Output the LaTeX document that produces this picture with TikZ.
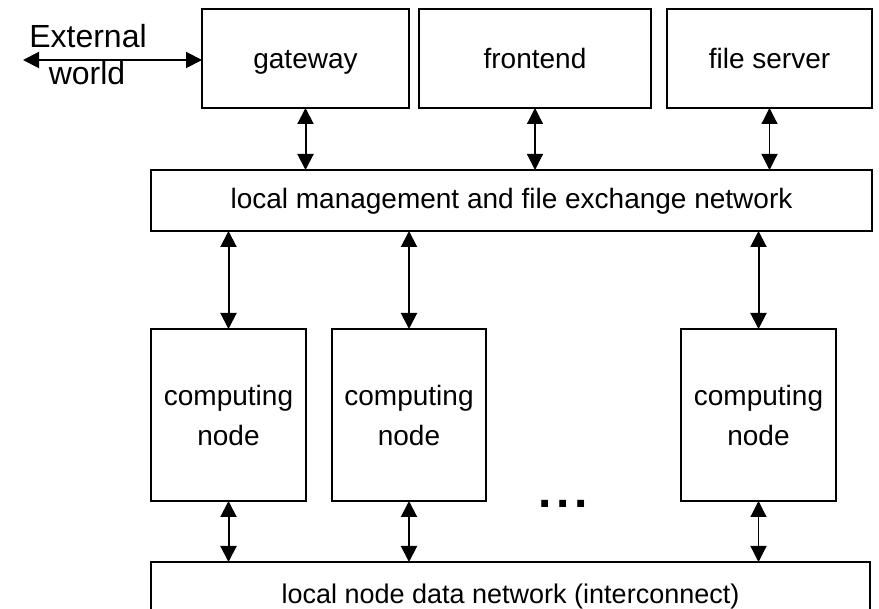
\documentclass[tikz,border=0pt]{standalone}
\usepackage{fontspec}
\setmainfont{Liberation Sans}
\usetikzlibrary{arrows.meta}
\tikzset{
  unitbox/.style={draw=black, line width=1.6pt, inner sep=0pt, outer sep=0pt, fill=white},
  topbox/.style={unitbox, minimum height=99pt, text height=24pt, text depth=3pt,
    font=\fontsize{28}{34}\selectfont},
  mgmtbox/.style={unitbox, minimum width=721pt, minimum height=61pt,
    text height=20pt, text depth=3pt, font=\fontsize{28}{34}\selectfont},
  cnbox/.style={unitbox, minimum width=155pt, minimum height=172pt, align=center,
    font=\fontsize{28}{40}\selectfont},
  databox/.style={unitbox, minimum width=719pt, minimum height=68pt,
    text height=20pt, text depth=6pt, font=\fontsize{27}{32}\selectfont},
  outtext/.style={inner sep=0pt, anchor=base, font=\fontsize{32}{38}\selectfont},
  >={Triangle[length=16pt,width=16pt]},
  link/.style={<->, line width=2pt},
  thinlink/.style={<->, line width=1.2pt}
}
\begin{document}
\begin{tikzpicture}[x=1pt,y=-1pt]
\clip (0,0) rectangle (879,609);
\fill[white] (0,0) rectangle (879,609);

% service machines
\node[topbox, minimum width=207pt] (gw) at (305.5,58.5) {gateway};
\node[topbox, minimum width=232pt] (fe) at (535,58.5) {frontend};
\node[topbox, minimum width=205pt] (fs) at (769.5,58.5) {file server};

% management network
\node[mgmtbox] (mgmt) at (511.5,200.5) {local management and file exchange network};

% computing nodes
\node[cnbox] (cn1) at (228.5,415) {computing\\node};
\node[cnbox, minimum width=154pt] (cn2) at (409,415) {computing\\node};
\node[cnbox] (cn3) at (758.5,415) {computing\\node};

% interconnect
\node[databox] (data) at (510.5,596) {local node data network (interconnect)};

% ellipsis between nodes
\node[inner sep=0pt, anchor=base, font=\fontsize{48}{48}\selectfont\bfseries] (dots)
  at (563,508) {.\hspace{5pt}.\hspace{5pt}.};

% outside world
\node[outtext] (ext) at (88,48) {External};
\node[outtext] (world) at (87,85) {world};
\coordinate (outside) at (23,60);
\draw[link] (outside) -- (outside -| gw.west);

% connections
\draw[link] (gw.south) -- (gw.south |- mgmt.north);
\draw[thinlink] (fe.south) -- (fe.south |- mgmt.north);
\draw[thinlink] (fs.south) -- (fs.south |- mgmt.north);

\draw[link] (cn1.north |- mgmt.south) -- (cn1.north);
\draw[link] (cn2.north |- mgmt.south) -- (cn2.north);
\draw[link] (cn3.north |- mgmt.south) -- (cn3.north);

\draw[link] (cn1.south) -- (cn1.south |- data.north);
\draw[link] (cn2.south) -- (cn2.south |- data.north);
\draw[thinlink] (cn3.south) -- (cn3.south |- data.north);
\end{tikzpicture}
\end{document}
